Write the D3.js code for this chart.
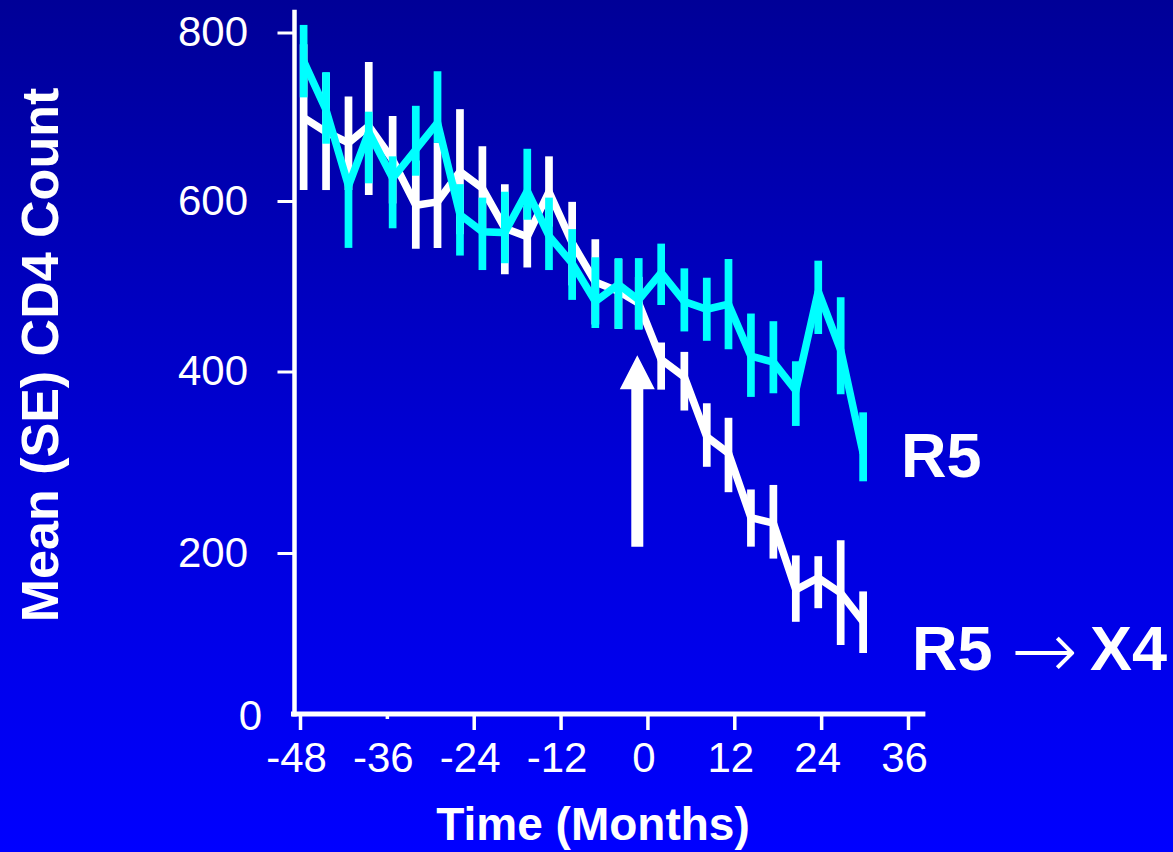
<!DOCTYPE html>
<html>
<head>
<meta charset="utf-8">
<script src="https://cdn.jsdelivr.net/npm/d3@7"></script>
<style>
  html, body { margin: 0; padding: 0; background: #0000c0; }
  svg { display: block; }
  text { font-family: "Liberation Sans", Arial, Helvetica, sans-serif; fill: #fff; }
</style>
</head>
<body>
<svg id="chart" width="1173" height="852"></svg>
<script>
// Visit times (months relative to coreceptor switch)
const months = [-47.5, -44.4, -41.3, -38.5, -35.2, -32.0, -29.0, -25.9, -22.8, -19.7,
                -16.6, -13.6, -10.4, -7.2, -4.0, -1.2, 1.9, 5.1, 8.2, 11.2,
                14.3, 17.4, 20.5, 23.6, 26.7, 29.8];

// R5 group (stays R5): mean CD4 and SE bar ends
const r5Mean  = [766, 708, 618, 682, 627, 661, 693, 584, 564, 563, 612, 559, 527, 482, 502, 484, 516, 482, 473, 479, 418, 411, 379, 494, 425, 310];
const r5Upper = [809, 753, 630, 706, 653, 713, 754, 620, 604, 611, 662, 604, 567, 534, 533, 533, 550, 521, 510, 532, 468, 459, 412, 530, 487, 355];
const r5Lower = [723, 668, 545, 621, 568, 630, 669, 536, 519, 527, 578, 519, 484, 451, 450, 449, 478, 447, 436, 426, 372, 376, 340, 444, 375, 279];

// R5 -> X4 switch group
const x4Mean  = [699, 682, 669, 689, 649, 595, 599, 635, 615, 568, 558, 611, 551, 505, 494, 480, 414, 394, 328, 310, 239, 233, 154, 169, 150, 114];
const x4Upper = [786, 752, 724, 765, 701, 648, 669, 709, 665, 620, 594, 653, 599, 555, 532, 511, 434, 423, 365, 349, 270, 275, 197, 196, 214, 152];
const x4Lower = [613, 613, 613, 607, 597, 544, 545, 561, 566, 514, 522, 570, 501, 455, 450, 450, 380, 357, 295, 267, 207, 193, 114, 131, 85, 75];

// Axis ticks
const xTicks = [-48, -36, -24, -12, 0, 12, 24, 36];
const yTicks = [0, 200, 400, 600, 800];

// Switch marker (arrow): month and CD4 span
const switchMonth = -1.4;
const switchFrom = 207, switchTo = 419;

const svg = d3.select("#chart");
const W = 1173, H = 852;

// background gradient
const defs = svg.append("defs");
const grad = defs.append("linearGradient").attr("id", "bg")
  .attr("x1", 0).attr("y1", 0).attr("x2", 0).attr("y2", 1);
grad.append("stop").attr("offset", "0%").attr("stop-color", "#000097");
grad.append("stop").attr("offset", "55%").attr("stop-color", "#0000d8");
grad.append("stop").attr("offset", "100%").attr("stop-color", "#0000ff");
svg.append("rect").attr("width", W).attr("height", H).attr("fill", "url(#bg)");

// scales
const x = d3.scaleLinear().domain([-48, 36]).range([300, 908]);
const y = d3.scaleLinear().domain(yTicks).range([713, 553, 371.5, 201, 32.5]);

const axisX = 294.5;
const axisY = 714;

// y axis
const yAxis = svg.append("g")
  .attr("transform", `translate(${axisX},0)`)
  .call(d3.axisLeft(y).tickValues(yTicks).tickSize(17).tickPadding(29.5)
        .tickFormat(d => String(d)));
yAxis.select(".domain").remove();
yAxis.selectAll(".tick line").attr("stroke", "#fff").attr("stroke-width", 3);
yAxis.selectAll(".tick text")
  .attr("font-size", 42).attr("fill", "#fff").attr("font-family", null);
yAxis.selectAll(".tick").filter(d => d === 0).select("line").remove();
yAxis.selectAll(".tick").filter(d => d === 0).select("text").attr("x", -32.5).attr("dy", "0.4em");

// x axis
const xAxis = svg.append("g")
  .attr("transform", `translate(0,${axisY})`)
  .call(d3.axisBottom(x).tickValues(xTicks).tickSize(16).tickPadding(11.7)
        .tickFormat(d => String(d)));
xAxis.select(".domain").remove();
xAxis.selectAll(".tick line").attr("stroke", "#fff").attr("stroke-width", 3.5);
xAxis.selectAll(".tick").filter(d => d === -36).select("line").attr("y2", 5);
xAxis.selectAll(".tick text")
  .attr("font-size", 42).attr("fill", "#fff").attr("font-family", null).attr("dx", -4);

// axis lines
svg.append("line")
  .attr("x1", axisX).attr("x2", axisX)
  .attr("y1", y(827)).attr("y2", axisY + 2.5)
  .attr("stroke", "#fff").attr("stroke-width", 4.5);
svg.append("line")
  .attr("x1", axisX - 3.5).attr("x2", x(38.4))
  .attr("y1", axisY).attr("y2", axisY)
  .attr("stroke", "#fff").attr("stroke-width", 5);

// series
const series = [
  { name: "x4", color: "#ffffff", mean: x4Mean, upper: x4Upper, lower: x4Lower },
  { name: "r5", color: "#00ffff", mean: r5Mean, upper: r5Upper, lower: r5Lower }
];

const line = d3.line().x(d => x(d.m)).y(d => y(d.v));

series.forEach(s => {
  const pts = months.map((m, i) => ({ m, v: s.mean[i], hi: s.upper[i], lo: s.lower[i] }));
  const g = svg.append("g").attr("class", "series-" + s.name);
  g.append("path")
    .datum(pts)
    .attr("d", line)
    .attr("fill", "none")
    .attr("stroke", s.color)
    .attr("stroke-width", 7.5)
    .attr("stroke-linejoin", "miter")
    .attr("stroke-miterlimit", 3);
  g.selectAll("line.se")
    .data(pts)
    .join("line")
    .attr("class", "se")
    .attr("x1", d => x(d.m)).attr("x2", d => x(d.m))
    .attr("y1", d => y(d.hi)).attr("y2", d => y(d.lo))
    .attr("stroke", s.color)
    .attr("stroke-width", 7.7);
});

// switch arrow
const ax = x(switchMonth);
const headLen = 34, headHalf = 17.5, shaftHalf = 6;
const tipY = y(switchTo), baseY = y(switchFrom);
svg.append("path")
  .attr("d", `M${ax},${tipY} L${ax + headHalf},${tipY + headLen} L${ax + shaftHalf},${tipY + headLen}
              L${ax + shaftHalf},${baseY} L${ax - shaftHalf},${baseY} L${ax - shaftHalf},${tipY + headLen}
              L${ax - headHalf},${tipY + headLen} Z`)
  .attr("fill", "#fff");

// series labels
svg.append("text").attr("x", 901).attr("y", 477)
  .attr("font-size", 63).attr("font-weight", "bold").text("R5");
const sw = svg.append("text").attr("y", 670)
  .attr("font-size", 63).attr("font-weight", "bold");
sw.append("tspan").attr("x", 912).text("R5 ");
sw.append("tspan")
  .attr("x", 1011).attr("y", 678)
  .attr("font-family", "DejaVu Sans").attr("font-weight", 200).attr("font-size", 80)
  .text("\u2192");
sw.append("tspan").attr("x", 1090).attr("y", 670).text(" X4".trim());

// axis titles
svg.append("text")
  .attr("transform", "translate(58,355) rotate(-90)")
  .attr("text-anchor", "middle")
  .attr("font-size", 52).attr("font-weight", "bold")
  .text("Mean (SE) CD4 Count");
svg.append("text")
  .attr("x", 593).attr("y", 840)
  .attr("text-anchor", "middle")
  .attr("font-size", 46).attr("font-weight", "bold")
  .text("Time (Months)");
</script>
</body>
</html>
